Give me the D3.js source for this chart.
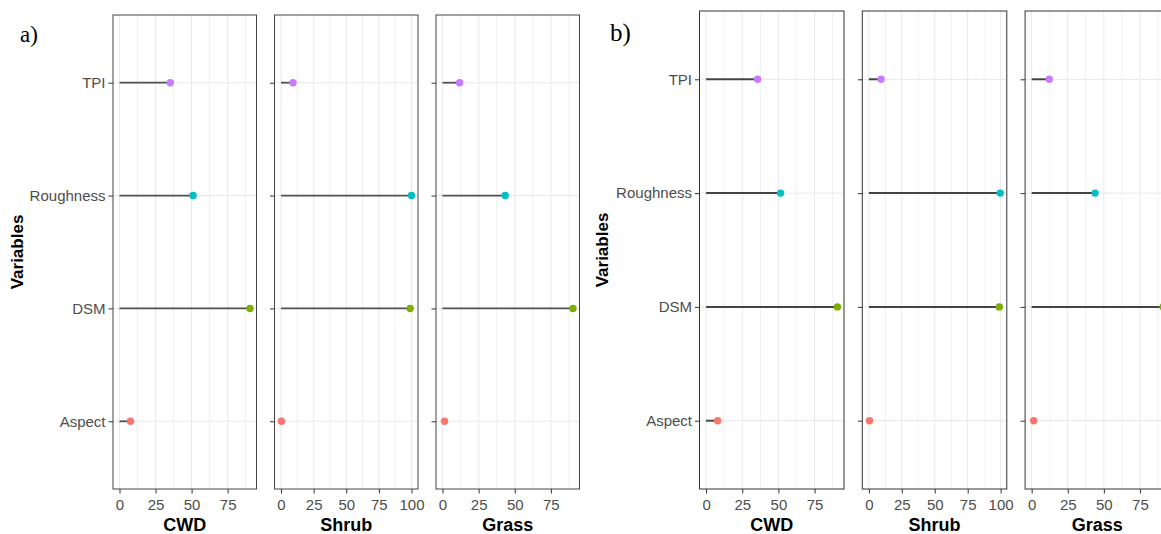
<!DOCTYPE html>
<html>
<head>
<meta charset="utf-8">
<script src="https://cdn.jsdelivr.net/npm/d3@7"></script>
<style>
  html, body { margin: 0; padding: 0; background: #fff; overflow: hidden; }
  svg { display: block; }
</style>
</head>
<body>
<svg></svg>
<script>
// Variables, bottom to top (ggplot default order on a discrete y axis)
var variables = ['Aspect', 'DSM', 'Roughness', 'TPI'];
var pointColors = ['#F8766D', '#7CAE00', '#00BFC4', '#C77CFF'];
var facets = ['CWD', 'Shrub', 'Grass'];
var xTickValues = [0, 25, 50, 75, 100];

// Importance values, same order as variables
var cwdA = [7.6, 90.5, 51.0, 35.2];
var shrubA = [0.3, 99.0, 100.0, 9.2];
var grassA = [1.4, 90.3, 43.4, 11.8];

var cwdB = [8.0, 90.8, 51.5, 35.6];
var shrubB = [0.5, 99.0, 99.7, 9.3];
var grassB = [1.4, 91.0, 43.9, 12.2];

window.Lollipops = (function() {
  var svgDS = {width: 1161, height: 534};
  var FONT = '"Liberation Sans", Arial, sans-serif';
  var $svg;

  var figures = [
    {label: 'a)', values: [cwdA, shrubA, grassA],
     layout: {left: 113, top: 15, bottom: 489, width: 143.5, gap: 18,
              labelX: 20, labelY: 41.5, labelSize: 23, yTitleX: 23,
              segWidth: 1.8, segColor: '#505050', border: '#444'}},
    {label: 'b)', values: [cwdB, shrubB, grassB],
     layout: {left: 699.5, top: 11, bottom: 489, width: 144.5, gap: 18.3,
              labelX: 610, labelY: 40.5, labelSize: 25, yTitleX: 608,
              segWidth: 2, segColor: '#444', border: '#333'}}
  ];

  var drawFigure = function drawFigure(fig) {
    var L = fig.layout;
    var $g = $svg.append('g');

    // discrete axis, ggplot expands 0.6 of a step on each end
    var y = d3.scalePoint().domain(variables).range([L.bottom, L.top]).padding(0.6);

    facets.forEach(function(facet, i) {
      var vals = fig.values[i];
      var rows = variables.map(function(v, k) { return {name: v, value: vals[k], color: pointColors[k]}; });
      var x0 = L.left + i * (L.width + L.gap);
      var maxV = d3.max(vals);
      var pad = maxV * 0.05;
      var x = d3.scaleLinear().domain([-pad, maxV + pad]).range([x0, x0 + L.width]);
      var inDomain = function(t) { return t >= -pad && t <= maxV + pad; };
      var major = xTickValues.filter(inDomain);
      var minor = xTickValues.map(function(t) { return t + 12.5; }).filter(inDomain);

      var $p = $g.append('g');

      // grid
      $p.selectAll('line.minor').data(minor).enter().append('line')
        .attr('x1', function(d) { return x(d); }).attr('x2', function(d) { return x(d); })
        .attr('y1', L.top).attr('y2', L.bottom)
        .attr('stroke', '#F0F0F0').attr('stroke-width', 1);
      $p.selectAll('line.major').data(major).enter().append('line')
        .attr('x1', function(d) { return x(d); }).attr('x2', function(d) { return x(d); })
        .attr('y1', L.top).attr('y2', L.bottom)
        .attr('stroke', '#E8E8E8').attr('stroke-width', 1);
      $p.selectAll('line.hgrid').data(variables).enter().append('line')
        .attr('x1', x0).attr('x2', x0 + L.width)
        .attr('y1', function(d) { return y(d); }).attr('y2', function(d) { return y(d); })
        .attr('stroke', '#E8E8E8').attr('stroke-width', 1);

      // lollipops
      $p.selectAll('line.seg').data(rows).enter().append('line')
        .attr('x1', x(0)).attr('x2', function(d) { return x(d.value); })
        .attr('y1', function(d) { return y(d.name); }).attr('y2', function(d) { return y(d.name); })
        .attr('stroke', L.segColor).attr('stroke-width', L.segWidth);
      $p.selectAll('circle').data(rows).enter().append('circle')
        .attr('cx', function(d) { return x(d.value); })
        .attr('cy', function(d) { return y(d.name); })
        .attr('r', 3.7)
        .attr('fill', function(d) { return d.color; });

      // border
      $p.append('rect')
        .attr('x', x0).attr('y', L.top)
        .attr('width', L.width).attr('height', L.bottom - L.top)
        .attr('fill', 'none').attr('stroke', L.border).attr('stroke-width', 1);

      // axes
      var $xa = $p.append('g')
        .attr('transform', 'translate(0,' + L.bottom + ')')
        .call(d3.axisBottom(x).tickValues(major).tickSize(4.5).tickPadding(6));
      var $ya = $p.append('g')
        .attr('transform', 'translate(' + x0 + ',0)')
        .call(d3.axisLeft(y).tickSize(4.5).tickPadding(3)
          .tickFormat(i === 0 ? null : function() { return ''; }));
      [$xa, $ya].forEach(function($a) {
        $a.select('.domain').remove();
        $a.selectAll('.tick line').attr('stroke', '#333');
        $a.selectAll('.tick text')
          .attr('fill', '#4D4D4D')
          .style('font-family', FONT)
          .style('font-size', '15px');
      });

      // facet title under the panel
      $p.append('text')
        .attr('x', x0 + L.width / 2).attr('y', 531)
        .attr('text-anchor', 'middle')
        .style('font-family', FONT).style('font-size', '18px').style('font-weight', 'bold')
        .text(facet);
    });

    $g.append('text')
      .attr('transform', 'translate(' + L.yTitleX + ',' + ((L.top + L.bottom) / 2) + ') rotate(-90)')
      .attr('text-anchor', 'middle')
      .style('font-family', FONT).style('font-size', '17px').style('font-weight', 'bold')
      .text('Variables');

    $g.append('text')
      .attr('x', L.labelX).attr('y', L.labelY)
      .style('font-family', '"Liberation Serif", "Times New Roman", serif')
      .style('font-size', L.labelSize + 'px')
      .text(fig.label);
  };

  var onLoad = function onLoad() {
    $svg = d3.select('body').select('svg')
      .attr('width', svgDS.width)
      .attr('height', svgDS.height);
    figures.forEach(drawFigure);
  };

  return {onLoad: onLoad};
})();

Lollipops.onLoad();
</script>
</body>
</html>
